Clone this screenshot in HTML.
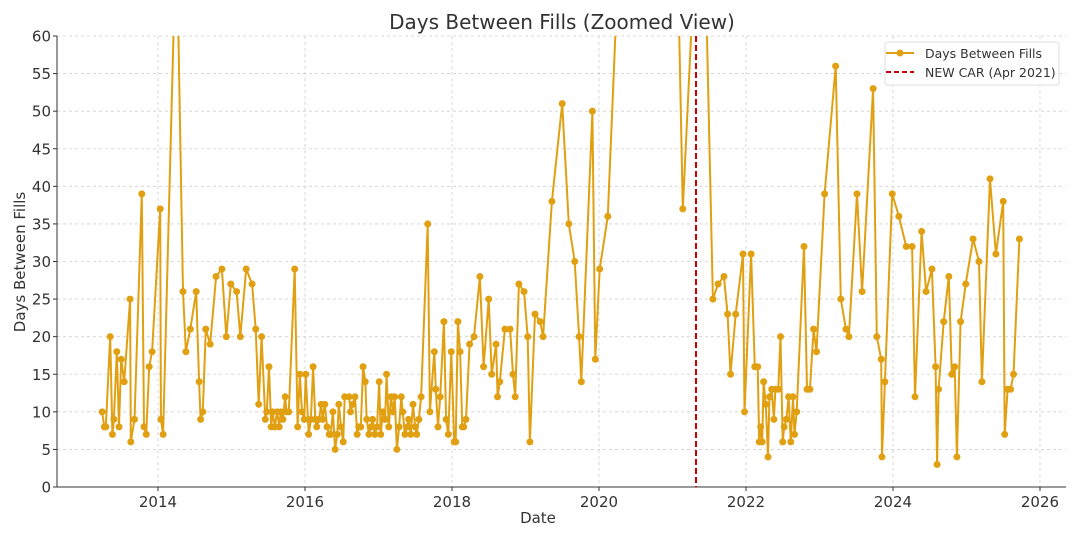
<!DOCTYPE html>
<html><head><meta charset="utf-8"><style>
body{margin:0;background:#fff;}
svg text{font-family:"DejaVu Sans","Liberation Sans",sans-serif;fill:#333;}
</style></head><body>
<svg id="chart" width="1080" height="540">
<defs><clipPath id="clip"><rect x="57" y="36" width="1009" height="451"/></clipPath></defs>
<text x="562" y="29" font-size="20" text-anchor="middle">Days Between Fills (Zoomed View)</text>
<text x="538" y="523" font-size="15" text-anchor="middle">Date</text>
<text transform="translate(25,262) rotate(-90)" font-size="15" text-anchor="middle">Days Between Fills</text>
<g id="grid"></g><g id="axes"></g>
<g id="marks" clip-path="url(#clip)"></g>
<g>
<rect x="885" y="42" width="174" height="43" fill="#fff" stroke="#ddd" rx="3"/>
<line x1="886" y1="53" x2="914" y2="53" stroke="#e0a012" stroke-width="2"/><circle cx="900" cy="53" r="3.5" fill="#e0a012"/>
<text x="925" y="58" font-size="12.5">Days Between Fills</text>
<line x1="886" y1="72" x2="914" y2="72" stroke="#c00" stroke-width="2" stroke-dasharray="5,3"/>
<text x="925" y="77" font-size="12.5">NEW CAR (Apr 2021)</text>
</g>
</svg>
<script>
const dates=[2013.24,2013.27,2013.29,2013.35,2013.38,2013.40,2013.44,2013.47,2013.50,2013.54,2013.62,2013.63,2013.68,2013.78,2013.81,2013.84,2013.88,2013.92,2014.03,2014.04,2014.07,2014.25,2014.34,2014.38,2014.44,2014.52,2014.56,2014.58,2014.61,2014.65,2014.71,2014.79,2014.87,2014.93,2014.99,2015.07,2015.12,2015.20,2015.28,2015.33,2015.37,2015.41,2015.46,2015.48,2015.51,2015.54,2015.56,2015.59,2015.62,2015.65,2015.67,2015.70,2015.73,2015.75,2015.78,2015.86,2015.90,2015.93,2015.96,2015.99,2016.01,2016.05,2016.08,2016.11,2016.14,2016.16,2016.19,2016.22,2016.24,2016.27,2016.30,2016.33,2016.35,2016.38,2016.41,2016.44,2016.46,2016.49,2016.52,2016.54,2016.60,2016.62,2016.65,2016.68,2016.71,2016.73,2016.76,2016.79,2016.82,2016.84,2016.87,2016.90,2016.92,2016.95,2016.98,2017.01,2017.03,2017.06,2017.09,2017.11,2017.14,2017.17,2017.20,2017.22,2017.25,2017.28,2017.31,2017.33,2017.36,2017.39,2017.41,2017.44,2017.47,2017.50,2017.52,2017.55,2017.58,2017.67,2017.70,2017.76,2017.78,2017.81,2017.84,2017.89,2017.92,2017.95,2017.99,2018.03,2018.05,2018.08,2018.11,2018.14,2018.16,2018.19,2018.24,2018.30,2018.38,2018.43,2018.50,2018.54,2018.60,2018.62,2018.65,2018.72,2018.79,2018.83,2018.86,2018.91,2018.98,2019.03,2019.06,2019.13,2019.20,2019.24,2019.36,2019.50,2019.59,2019.67,2019.73,2019.76,2019.91,2019.95,2020.01,2020.12,2020.35,2021.03,2021.14,2021.40,2021.55,2021.62,2021.70,2021.75,2021.79,2021.86,2021.96,2021.98,2022.07,2022.12,2022.16,2022.18,2022.20,2022.22,2022.24,2022.27,2022.30,2022.32,2022.35,2022.38,2022.40,2022.44,2022.47,2022.50,2022.52,2022.55,2022.58,2022.61,2022.64,2022.66,2022.69,2022.79,2022.83,2022.87,2022.92,2022.96,2023.07,2023.22,2023.29,2023.36,2023.40,2023.51,2023.58,2023.73,2023.78,2023.84,2023.85,2023.89,2023.99,2024.08,2024.18,2024.26,2024.30,2024.39,2024.45,2024.53,2024.58,2024.60,2024.62,2024.69,2024.76,2024.80,2024.84,2024.87,2024.92,2024.99,2025.09,2025.17,2025.21,2025.32,2025.40,2025.50,2025.52,2025.56,2025.60,2025.64,2025.72];
const days=[10,8,8,20,7,9,18,8,17,14,25,6,9,39,8,7,16,18,37,9,7,75,26,18,21,26,14,9,10,21,19,28,29,20,27,26,20,29,27,21,11,20,9,10,16,8,10,8,10,8,10,9,12,10,10,29,8,15,10,9,15,7,9,16,9,8,9,11,9,11,8,7,7,10,5,7,11,8,6,12,12,10,11,12,7,8,8,16,14,9,7,8,9,7,8,14,7,10,9,15,8,12,10,12,5,8,12,10,7,8,9,7,11,8,7,9,12,35,10,18,13,8,12,22,9,7,18,6,6,22,18,8,8,9,19,20,28,16,25,15,19,12,14,21,21,15,12,27,26,20,6,23,22,20,38,51,35,30,20,14,50,17,29,36,90,90,37,90,25,27,28,23,15,23,31,10,31,16,16,6,8,6,14,11,4,12,13,9,13,13,20,6,8,9,12,6,12,7,10,32,13,13,21,18,39,56,25,21,20,39,26,53,20,17,4,14,39,36,32,32,12,34,26,29,16,3,13,22,28,15,16,4,22,27,33,30,14,41,31,38,7,13,13,15,33];
const yTicks=[0,5,10,15,20,25,30,35,40,45,50,55,60];
const xTicks=[2014,2016,2018,2020,2022,2024,2026];
const newCarDate=2021.32;
const X0=57,X1=1066,Y0=487,Y1=36,xmin=2012.626,xmax=2026.354,ymin=0,ymax=60;
const xs=v=>X0+(v-xmin)/(xmax-xmin)*(X1-X0);
const ys=v=>Y0-(v-ymin)/(ymax-ymin)*(Y0-Y1);
const NS='http://www.w3.org/2000/svg';
function mk(tag,attrs,parent){const e=document.createElementNS(NS,tag);for(const k in attrs)e.setAttribute(k,attrs[k]);document.getElementById(parent).appendChild(e);return e;}
yTicks.forEach(t=>{
  const g=mk('line',{x1:X0,x2:X1,y1:ys(t),y2:ys(t),stroke:'#d0d0d0','stroke-dasharray':'3,3','stroke-width':0.8},'grid');
  
  
  const tk=mk('line',{x1:X0-4,x2:X0,y1:ys(t),y2:ys(t),stroke:'#333'},'axes');
  
  
  const l=mk('text',{x:X0-6,y:ys(t)+5.5,'font-size':15,'text-anchor':'end'},'axes');l.textContent=t;
  
  
});
xTicks.forEach(t=>{
  const g=mk('line',{x1:xs(t),x2:xs(t),y1:Y1,y2:Y0,stroke:'#d0d0d0','stroke-dasharray':'3,3','stroke-width':0.8},'grid');
  
  
  const tk=mk('line',{x1:xs(t),x2:xs(t),y1:Y0,y2:Y0+4,stroke:'#333'},'axes');
  
  
  const l=mk('text',{x:xs(t),y:Y0+20,'font-size':15,'text-anchor':'middle'},'axes');l.textContent=t;
  
  
});
const ya=mk('line',{x1:X0,x2:X0,y1:Y1,y2:Y0,stroke:'#333','stroke-width':1},'axes');


const xa=mk('line',{x1:X0,x2:X1,y1:Y0,y2:Y0,stroke:'#333','stroke-width':1},'axes');


const pts=dates.map((d,i)=>xs(d).toFixed(1)+','+ys(days[i]).toFixed(1)).join(' ');
const line=mk('polyline',{points:pts,fill:'none',stroke:'#e0a012','stroke-width':2,'stroke-linejoin':'round'},'marks');


dates.forEach((d,i)=>{
  const c=mk('circle',{cx:xs(d),cy:ys(days[i]),r:3.5,fill:'#e0a012'},'marks');
  
  
});
const nc=mk('line',{x1:xs(newCarDate),x2:xs(newCarDate),y1:Y1,y2:Y0,stroke:'#c00','stroke-width':2,'stroke-dasharray':'6,3'},'marks');


</script>
</body></html>
